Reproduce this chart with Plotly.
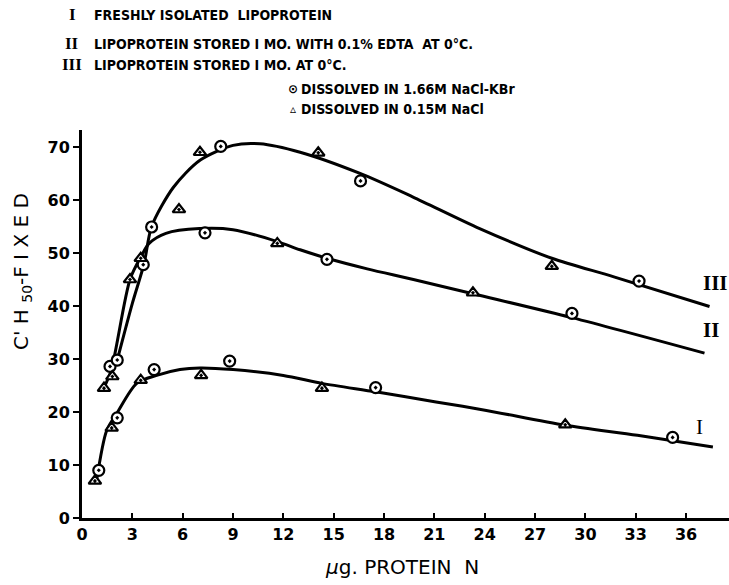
import plotly.graph_objects as go

# ---- data ----
# smooth curves (knots)
curve_I_x = [0.87, 1.47, 2.07, 3.26, 4.45, 5.84, 7.03, 9.0, 12.0, 14.3, 17.5, 21.1, 24.1, 28.8, 33.1, 37.6]
curve_I_y = [7.1, 16.5, 19.7, 25.4, 26.9, 28.0, 28.3, 28.0, 26.9, 25.4, 23.8, 21.9, 20.3, 17.5, 15.6, 13.4]

curve_II_x = [1.3, 1.75, 2.86, 3.55, 4.0, 5.0, 7.0, 9.0, 11.6, 13.0, 14.6, 17.0, 19.75, 23.3, 29.2, 37.1]
curve_II_y = [24.5, 28.0, 45.0, 49.5, 51.8, 53.7, 54.6, 54.4, 52.2, 50.6, 49.0, 47.0, 45.0, 42.3, 37.8, 31.1]

curve_III_x = [2.1, 3.0, 3.7, 4.15, 5.45, 7.03, 9.0, 10.6, 13.0, 16.57, 19.7, 23.7, 28.0, 31.7, 37.4]
curve_III_y = [29.8, 40.5, 48.0, 55.0, 62.4, 67.5, 70.3, 70.6, 69.0, 65.0, 60.6, 54.6, 49.0, 45.5, 39.9]

# observed points: circles = dissolved in 1.66M NaCl-KBr, triangles = dissolved in 0.15M NaCl
circle_x = [1.0, 2.1, 4.3, 8.8, 17.5, 35.2,          # I
            1.67, 7.33, 14.6, 29.2,                 # II
            2.1, 3.65, 4.15, 8.27, 16.6, 33.2]      # III
circle_y = [9.0, 18.9, 28.0, 29.6, 24.6, 15.2,
            28.6, 53.8, 48.8, 38.6,
            29.8, 47.8, 54.9, 70.1, 63.6, 44.7]

triangle_x = [0.77, 1.77, 3.5, 7.1, 14.3, 28.8,      # I
              1.31, 1.81, 2.86, 3.5, 11.64, 23.3,   # II
              5.78, 7.03, 14.08, 28.0]              # III
triangle_y = [7.0, 17.0, 26.0, 26.9, 24.5, 17.6,
              24.5, 26.7, 45.0, 49.0, 51.8, 42.5,
              58.2, 69.0, 68.9, 47.5]

x_ticks = list(range(0, 37, 3))
y_ticks = list(range(0, 71, 10))

curve_labels = ["I", "<b>II</b>", "<b>III</b>"]
curve_label_x = [36.5, 36.9, 36.9]
curve_label_y = [17.2, 35.4, 44.3]

legend_numerals = ["I", "II", "III"]
legend_lines = ["FRESHLY ISOLATED  LIPOPROTEIN",
                "LIPOPROTEIN STORED I MO. WITH 0.1% EDTA  AT 0°C.",
                "LIPOPROTEIN STORED I MO. AT 0°C."]
marker_legend = ["⊙", "▵"]
marker_legend_text = ["DISSOLVED IN 1.66M NaCl-KBr", "DISSOLVED IN 0.15M NaCl"]

# ---- figure ----
SANS = "DejaVu Sans, sans-serif"
NARROW = "Liberation Sans Narrow, DejaVu Sans Condensed, sans-serif"
fig = go.Figure()

for cx, cy in [(curve_I_x, curve_I_y), (curve_II_x, curve_II_y), (curve_III_x, curve_III_y)]:
    fig.add_trace(go.Scatter(x=cx, y=cy, mode="lines",
                             line=dict(color="black", width=3, shape="spline", smoothing=0.8),
                             hoverinfo="skip", showlegend=False))

fig.add_trace(go.Scatter(x=circle_x, y=circle_y, mode="markers",
                         marker=dict(symbol="circle-dot", size=11, color="white",
                                     line=dict(color="black", width=2.2)),
                         showlegend=False))
fig.add_trace(go.Scatter(x=triangle_x, y=triangle_y, mode="markers",
                         marker=dict(symbol="triangle-up-dot", size=11, color="white",
                                     line=dict(color="black", width=2.2)),
                         showlegend=False))

for t, lx, ly in zip(curve_labels, curve_label_x, curve_label_y):
    fig.add_annotation(x=lx, y=ly, text=t, showarrow=False, xanchor="left", yanchor="middle",
                       font=dict(family="Liberation Serif, serif", size=21, color="black"))

# header legend text
legend_y_px = [15, 44, 65]
for num, txt, ypx in zip(legend_numerals, legend_lines, legend_y_px):
    fig.add_annotation(xref="paper", yref="paper", x=(72 - 82) / 647, y=1 + (130 - ypx) / 388,
                       text="<b>" + num + "</b>", showarrow=False, xanchor="center", yanchor="middle",
                       font=dict(family="Liberation Serif, serif", size=17, color="black"))
    fig.add_annotation(xref="paper", yref="paper", x=(92 - 82) / 647, y=1 + (130 - ypx) / 388,
                       text="<b>" + txt + "</b>", showarrow=False, xanchor="left", yanchor="middle",
                       font=dict(family=NARROW, size=14, color="black"))
for sym, txt, ypx in zip(marker_legend, marker_legend_text, [89, 109.5]):
    fig.add_annotation(xref="paper", yref="paper", x=(293 - 82) / 647, y=1 + (130 - ypx) / 388,
                       text="<b>" + sym + "</b>", showarrow=False, xanchor="center", yanchor="middle",
                       font=dict(family=SANS, size=12, color="black"))
    fig.add_annotation(xref="paper", yref="paper", x=(299 - 82) / 647, y=1 + (130 - ypx) / 388,
                       text="<b>" + txt + "</b>", showarrow=False, xanchor="left", yanchor="middle",
                       font=dict(family=NARROW, size=14, color="black"))

# axis titles
fig.add_annotation(xref="paper", yref="paper", x=(402 - 82) / 647, y=-(567 - 518) / 388,
                   text="<i>μ</i>g. PROTEIN  N", showarrow=False, xanchor="center", yanchor="middle",
                   font=dict(family=SANS, size=20, color="black"))
fig.add_annotation(xref="paper", yref="paper", x=(22 - 82) / 647, y=(518 - 272) / 388,
                   text="C' H <sub>50</sub>-F I X E D", showarrow=False, textangle=-90,
                   xanchor="center", yanchor="middle",
                   font=dict(family=SANS, size=20, color="black"))

fig.update_layout(
    width=729, height=585,
    margin=dict(l=82, r=0, t=130, b=67),
    paper_bgcolor="white", plot_bgcolor="white",
    xaxis=dict(range=[0, 38.56], tickvals=x_ticks, ticks="inside", ticklen=5, tickwidth=2,
               tickcolor="black", showline=True, linecolor="black", linewidth=3,
               showgrid=False, zeroline=False,
               tickfont=dict(family=SANS, size=16, color="black", weight="bold")),
    yaxis=dict(range=[0, 73.2], tickvals=y_ticks, ticks="outside", ticklen=6, tickwidth=2,
               tickcolor="black", showline=True, linecolor="black", linewidth=3,
               showgrid=False, zeroline=False,
               tickfont=dict(family=SANS, size=16, color="black", weight="bold")),
)

fig.write_html("out.html")
